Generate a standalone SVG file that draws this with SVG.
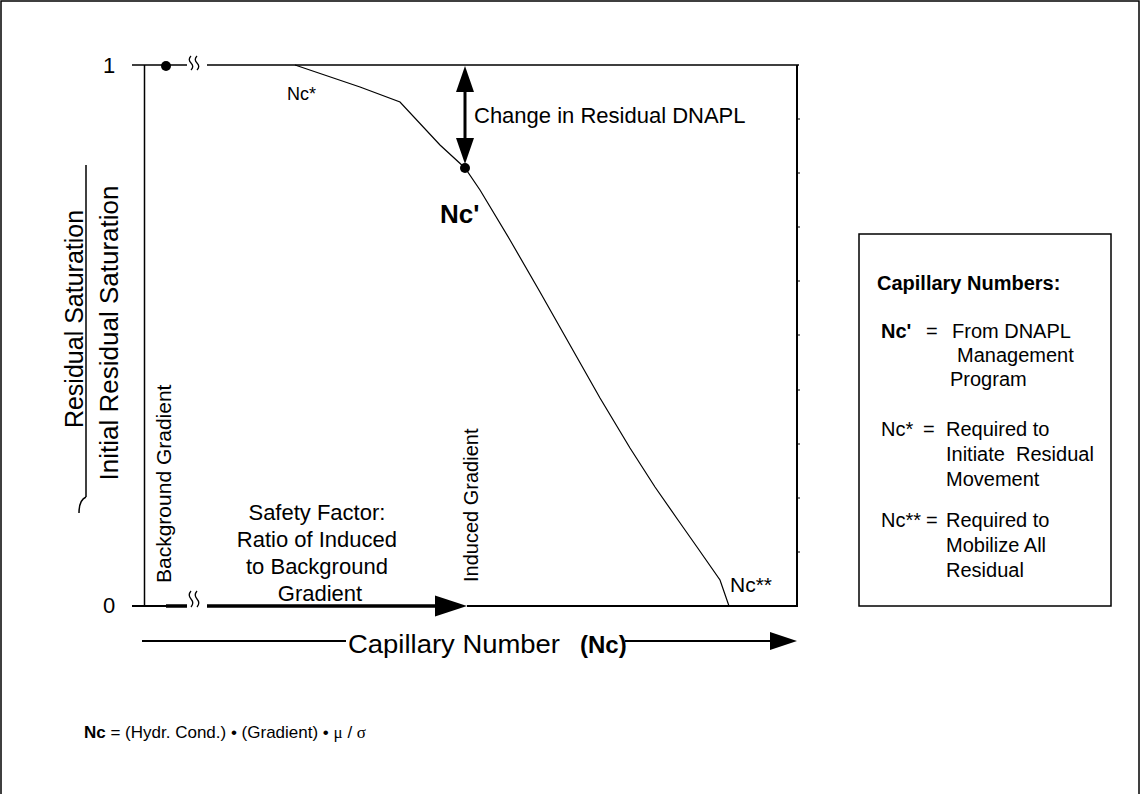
<svg xmlns="http://www.w3.org/2000/svg" width="1141" height="794" viewBox="0 0 1141 794">
<style>
.t{font-family:"Liberation Sans",Arial,sans-serif;fill:#000}
.b{font-weight:bold}
.s{font-family:"Liberation Serif","Times New Roman",serif}
.ln{fill:none;stroke:#000}
</style>
<rect x="1" y="1" width="1138" height="820" fill="#fff" stroke="#000" stroke-width="1.5"/>
<g id="connectors">
  <!-- top axis -->
  <path class="ln" stroke-width="1.5" d="M132,65 H187 M207,65 H799"/>
  <path class="ln" stroke-width="1.3" d="M191,56 q-3.5,3.5 0,7 q3.5,3.5 0,7 M197,56 q-3.5,3.5 0,7 q3.5,3.5 0,7"/>
  <!-- left axis -->
  <path class="ln" stroke-width="1.5" d="M144.5,65 V606"/>
  <!-- right axis with ticks -->
  <path class="ln" stroke-width="2" d="M797,65 V607"/>
  <path class="ln" stroke-width="1" d="M797,119 h3 M797,173 h3 M797,227 h3 M797,281 h3 M797,335 h3 M797,390 h3 M797,444 h3 M797,498 h3 M797,552 h3"/>
  <!-- bottom axis -->
  <path class="ln" stroke-width="2" d="M132,606 H166 M467,606 H797"/>
  <path class="ln" stroke-width="3.5" d="M166,606 H187 M207,606 H437"/>
  <polygon points="435,595.5 467,606 435,616.5" fill="#000"/>
  <path class="ln" stroke-width="1.3" d="M191,591 q-3.5,4 0,8 q3.5,4 0,8 M197,591 q-3.5,4 0,8 q3.5,4 0,8"/>
  <!-- curve -->
  <path class="ln" stroke-width="1.2" d="M295,65 L360,87 L400,102 L440,145 L465,168 L480,190 L510,240 L540,292 L570,345 L600,398 L630,448 L655,487 L678,520 L697,547 L720,580 L729,606"/>
  <!-- double arrow -->
  <path class="ln" stroke-width="3" d="M465,90 V140"/>
  <polygon points="465,66 456,92 474,92" fill="#000"/>
  <polygon points="456,138 474,138 465,164" fill="#000"/>
  <!-- capillary number axis arrow -->
  <path class="ln" stroke-width="2" d="M142,641 H346 M625,641 H772"/>
  <polygon points="770,632 797,641 770,650" fill="#000"/>
  <!-- y-axis fraction line -->
  <path class="ln" stroke-width="1.5" d="M86,165 V497"/>
  <path class="ln" stroke-width="1.5" d="M86,497 Q79,500 79,513"/>
</g>
<g id="points">
  <circle cx="166" cy="66" r="5" fill="#000"/>
  <circle cx="465" cy="168" r="5" fill="#000"/>
</g>
<g id="axis-labels">
  <text class="t" x="103" y="73" font-size="22">1</text>
  <text class="t" x="103" y="613" font-size="22">0</text>
  <text class="t" font-size="25" text-anchor="middle" transform="translate(83,319) rotate(-90)">Residual Saturation</text>
  <text class="t" font-size="26" text-anchor="middle" transform="translate(118,333) rotate(-90)">Initial Residual Saturation</text>
  <text class="t" x="348" y="653" font-size="26" textLength="212" lengthAdjust="spacingAndGlyphs">Capillary Number</text>
  <text class="t b" x="580" y="653" font-size="24">(Nc)</text>
</g>
<g id="curve-labels">
  <text class="t" x="287" y="100" font-size="18">Nc*</text>
  <text class="t" x="474" y="123" font-size="22">Change in Residual DNAPL</text>
  <text class="t b" x="440" y="223" font-size="26">Nc'</text>
  <text class="t" x="730" y="592" font-size="21">Nc**</text>
</g>
<g id="gradient-labels">
  <text class="t" font-size="21" transform="translate(171,583) rotate(-90)">Background Gradient</text>
  <text class="t" font-size="20" transform="translate(478,582) rotate(-90)">Induced Gradient</text>
  <text class="t" font-size="22" text-anchor="middle">
    <tspan x="320" y="520">Safety Factor:</tspan>
    <tspan x="320" y="547">Ratio of Induced</tspan>
    <tspan x="320" y="574">to Background</tspan>
    <tspan x="320" y="601">Gradient</tspan>
  </text>
</g>
<g id="legend">
  <rect x="859" y="234" width="252" height="372" fill="none" stroke="#000" stroke-width="1.5"/>
  <text class="t b" x="877" y="290" font-size="20">Capillary Numbers:</text>
  <text class="t b" x="881" y="338" font-size="20">Nc'</text>
  <text class="t" x="926" y="338" font-size="20">=</text>
  <text class="t" x="952" y="338" font-size="20">From DNAPL</text>
  <text class="t" x="957" y="362" font-size="20">Management</text>
  <text class="t" x="950" y="386" font-size="20">Program</text>
  <text class="t" x="881" y="436" font-size="20">Nc*</text>
  <text class="t" x="923" y="436" font-size="20">=</text>
  <text class="t" x="946" y="436" font-size="20">Required to</text>
  <text class="t" x="946" y="461" font-size="20" xml:space="preserve">Initiate  Residual</text>
  <text class="t" x="946" y="486" font-size="20">Movement</text>
  <text class="t" x="881" y="527" font-size="20">Nc**</text>
  <text class="t" x="926" y="527" font-size="20">=</text>
  <text class="t" x="946" y="527" font-size="20">Required to</text>
  <text class="t" x="946" y="552" font-size="20">Mobilize All</text>
  <text class="t" x="946" y="577" font-size="20">Residual</text>
</g>
<g id="formula">
  <text class="t" x="84" y="738" font-size="17"><tspan class="b">Nc</tspan> = (Hydr. Cond.) • (Gradient) • <tspan class="s">μ</tspan> / <tspan class="s">σ</tspan></text>
</g>
</svg>
